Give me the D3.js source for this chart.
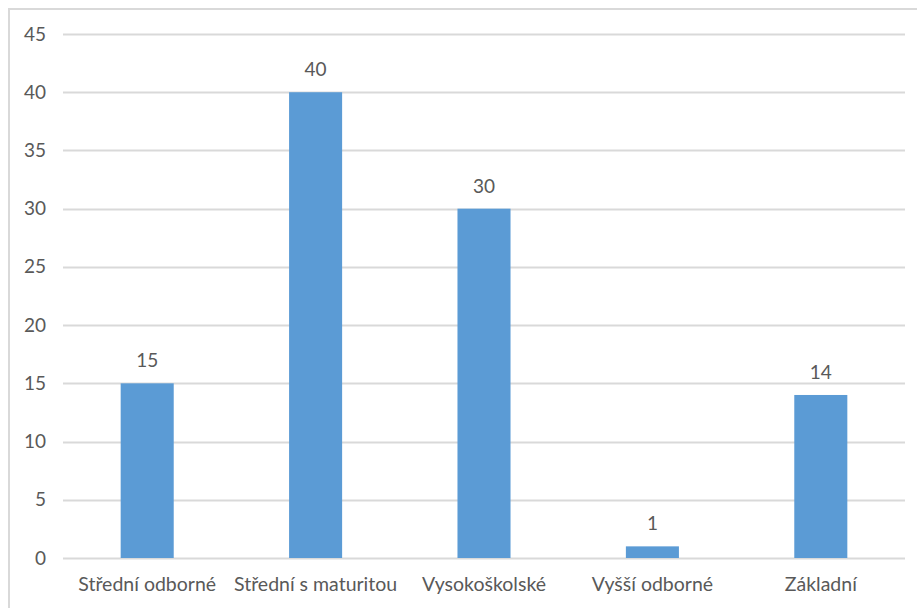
<!DOCTYPE html>
<html>
<head>
<meta charset="utf-8">
<script src="https://cdn.jsdelivr.net/npm/d3@7"></script>
<style>
  html, body { margin: 0; padding: 0; background: #fff; }
  svg { display: block; }
  text { font-family: Lato, "Open Sans", sans-serif; fill: #595959; }
</style>
</head>
<body>
<svg id="chart" width="917" height="608"></svg>
<script>
// Education level of respondents
const categories = ["Střední odborné", "Střední s maturitou", "Vysokoškolské", "Vyšší odborné", "Základní"];
const values = [15, 40, 30, 1, 14];
const yTicks = [0, 5, 10, 15, 20, 25, 30, 35, 40, 45];

const W = 917, H = 608;
const margin = { top: 34, right: 12, bottom: 50, left: 63 };
const svg = d3.select("#chart");

// outer frame (top and left edges visible)
svg.append("rect")
  .attr("x", 9).attr("y", 9)
  .attr("width", W + 10).attr("height", H + 10)
  .attr("fill", "none").attr("stroke", "#d9d9d9").attr("stroke-width", 2);

const x = d3.scaleBand()
  .domain(categories)
  .range([margin.left, W - margin.right])
  .paddingInner(0.685).paddingOuter(0.3425);

const y = d3.scaleLinear()
  .domain([0, 45])
  .range([H - margin.bottom, margin.top]);

// horizontal gridlines
svg.append("g")
  .selectAll("line")
  .data(yTicks)
  .join("line")
  .attr("x1", margin.left).attr("x2", W - margin.right)
  .attr("y1", d => Math.round(y(d)) + 0.5).attr("y2", d => Math.round(y(d)) + 0.5)
  .attr("stroke", "#d9d9d9").attr("stroke-width", 2);

// y axis labels
const yAxis = d3.axisLeft(y).tickValues(yTicks).tickSize(0).tickPadding(0);
const gy = svg.append("g")
  .attr("transform", `translate(${margin.left - 17},0)`)
  .call(yAxis);
gy.select(".domain").remove();
gy.selectAll("text")
  .attr("font-size", 19).attr("fill", "#595959")
  .style("font-family", "Lato, 'Open Sans', sans-serif");

// bars
svg.append("g")
  .selectAll("rect")
  .data(values)
  .join("rect")
  .attr("x", (d, i) => x(categories[i]))
  .attr("y", d => y(d))
  .attr("width", x.bandwidth())
  .attr("height", d => y(0) - y(d))
  .attr("fill", "#5b9bd5");

// value labels
svg.append("g")
  .selectAll("text")
  .data(values)
  .join("text")
  .attr("x", (d, i) => x(categories[i]) + x.bandwidth() / 2)
  .attr("y", d => y(d) - 16)
  .attr("text-anchor", "middle")
  .attr("font-size", 19)
  .text(d => d);

// category axis labels
const xAxis = d3.axisBottom(x).tickSize(0).tickPadding(0);
const gx = svg.append("g")
  .attr("transform", `translate(0,${y(0) + 19})`)
  .call(xAxis);
gx.select(".domain").remove();
gx.selectAll("text")
  .attr("font-size", 19.5).attr("fill", "#595959")
  .style("font-family", "Lato, 'Open Sans', sans-serif");
</script>
</body>
</html>
